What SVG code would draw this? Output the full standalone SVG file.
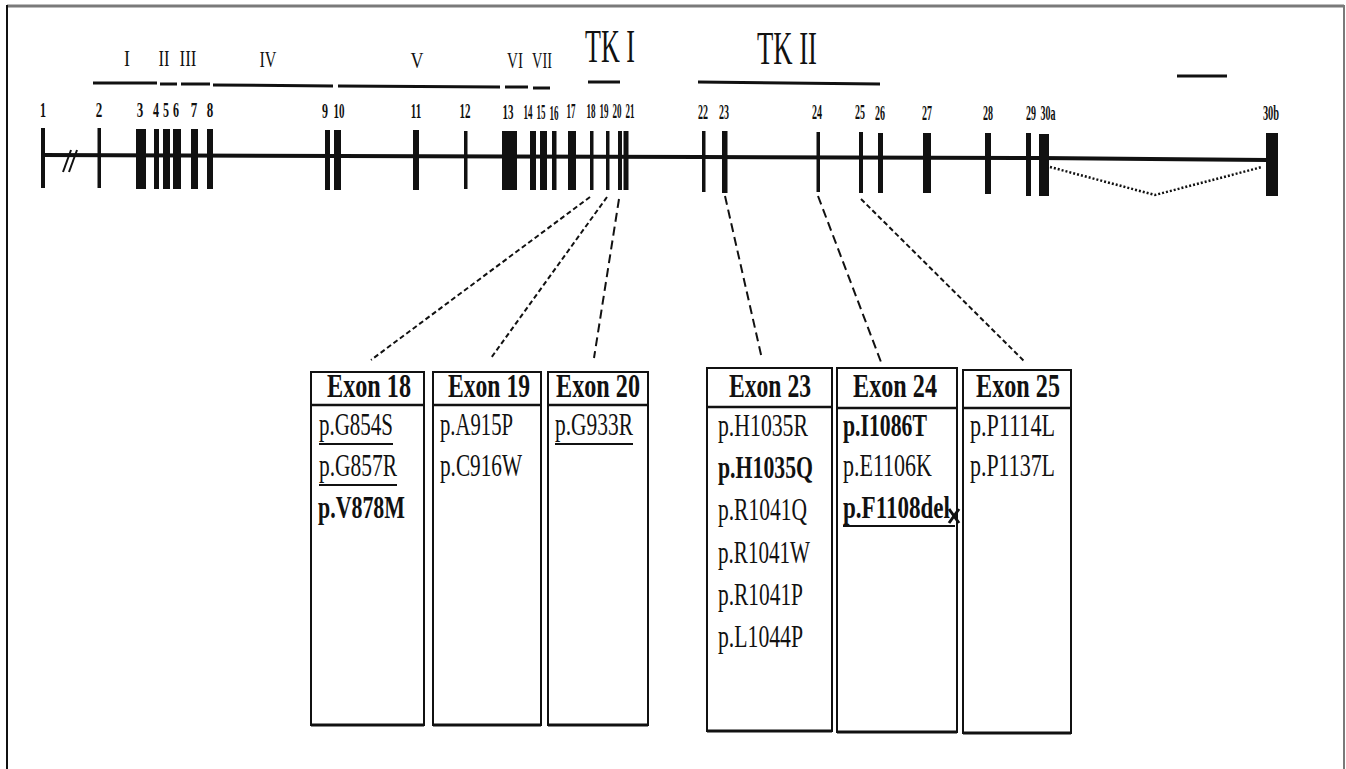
<svg xmlns="http://www.w3.org/2000/svg" width="1346" height="769" viewBox="0 0 1346 769">
<style>
.ser{font-family:"Liberation Serif","Times New Roman",serif;fill:#111}
.num{font-size:20px;font-weight:bold;text-anchor:middle}
.rom{font-size:23px;text-anchor:middle}
.tk{font-size:46px;text-anchor:middle}
.hdr{font-size:34px;font-weight:bold;text-anchor:middle}
.mut{font-size:31px}
.b{font-weight:bold}
.bar{stroke:#111;stroke-width:3;fill:none}
.ex{fill:#111}
.box{fill:none;stroke:#111;stroke-width:2}
.boxb{stroke:#111;stroke-width:3}
.div{stroke:#111;stroke-width:2.5}
.ul{stroke:#111;stroke-width:2}
.dsh{fill:none;stroke:#111;stroke-width:2;stroke-dasharray:5 3}
.dshl{fill:none;stroke:#111;stroke-width:2;stroke-dasharray:9 5}
</style>
<rect x="0" y="0" width="1346" height="769" fill="#ffffff"/>
<g id="frame">
<line x1="7" y1="6" x2="1344" y2="6" stroke="#7a7a7a" stroke-width="3"/>
<line x1="7" y1="5" x2="7" y2="769" stroke="#111" stroke-width="2"/>
<line x1="1344" y1="5" x2="1344" y2="769" stroke="#7a7a7a" stroke-width="2"/>
</g>
<g id="domains">
<text class="ser rom" x="127" y="66" textLength="6" lengthAdjust="spacingAndGlyphs">I</text>
<text class="ser rom" x="164" y="66" textLength="11" lengthAdjust="spacingAndGlyphs">II</text>
<text class="ser rom" x="188" y="66" textLength="17" lengthAdjust="spacingAndGlyphs">III</text>
<text class="ser rom" x="268" y="67" textLength="17" lengthAdjust="spacingAndGlyphs">IV</text>
<text class="ser rom" x="417" y="68" textLength="13" lengthAdjust="spacingAndGlyphs">V</text>
<text class="ser rom" x="515" y="68" textLength="16" lengthAdjust="spacingAndGlyphs">VI</text>
<text class="ser rom" x="542" y="68" textLength="20" lengthAdjust="spacingAndGlyphs">VII</text>
<text class="ser tk" x="610" y="62" textLength="50" lengthAdjust="spacingAndGlyphs">TK I</text>
<text class="ser tk" x="787" y="64" textLength="60" lengthAdjust="spacingAndGlyphs">TK II</text>
<line class="bar" x1="93" y1="83" x2="157" y2="83"/>
<line class="bar" x1="160" y1="84" x2="177" y2="84"/>
<line class="bar" x1="181" y1="84" x2="210" y2="84"/>
<line class="bar" x1="213" y1="85" x2="333" y2="86"/>
<line class="bar" x1="338" y1="86" x2="500" y2="87"/>
<line class="bar" x1="505" y1="87" x2="528" y2="87"/>
<line class="bar" x1="533" y1="88" x2="550" y2="88"/>
<line class="bar" x1="588" y1="82" x2="620" y2="82"/>
<line class="bar" x1="698" y1="82" x2="880" y2="84"/>
<line class="bar" x1="1177" y1="76" x2="1227" y2="76" stroke-width="2.5"/>
</g>
<g id="gene">
<polyline points="42,155 700,157 1040,158 1150,159 1268,160" fill="none" stroke="#111" stroke-width="4"/>
<line x1="63" y1="172" x2="71" y2="150" stroke="#111" stroke-width="2"/>
<line x1="69" y1="172" x2="77" y2="150" stroke="#111" stroke-width="2"/>
<rect class="ex" x="41" y="128" width="4" height="60"/>
<rect class="ex" x="97.5" y="128" width="3.5" height="60"/>
<rect class="ex" x="136" y="129" width="10" height="60"/>
<rect class="ex" x="154" y="129" width="5" height="60"/>
<rect class="ex" x="163" y="129" width="7" height="60"/>
<rect class="ex" x="173" y="129" width="8" height="60"/>
<rect class="ex" x="191" y="129" width="7" height="60"/>
<rect class="ex" x="207" y="129" width="6" height="60"/>
<rect class="ex" x="325" y="130" width="5" height="60"/>
<rect class="ex" x="334" y="130" width="7" height="60"/>
<rect class="ex" x="413" y="130" width="6" height="60"/>
<rect class="ex" x="464" y="131" width="3.5" height="58"/>
<rect class="ex" x="502" y="131" width="15" height="59"/>
<rect class="ex" x="530" y="131" width="6" height="59"/>
<rect class="ex" x="540" y="131" width="7" height="59"/>
<rect class="ex" x="552" y="131" width="4.5" height="59"/>
<rect class="ex" x="568" y="131" width="8" height="59"/>
<rect class="ex" x="590" y="131" width="3.5" height="59"/>
<rect class="ex" x="606" y="131" width="3.5" height="59"/>
<rect class="ex" x="618" y="131" width="4" height="59"/>
<rect class="ex" x="623.5" y="131" width="5" height="59"/>
<rect class="ex" x="702" y="131" width="3.5" height="61"/>
<rect class="ex" x="722" y="131" width="5.5" height="62"/>
<rect class="ex" x="816.5" y="132" width="3.5" height="60"/>
<rect class="ex" x="859" y="132" width="4" height="61"/>
<rect class="ex" x="878" y="133" width="5" height="60"/>
<rect class="ex" x="923" y="133" width="8" height="60"/>
<rect class="ex" x="985" y="133" width="6" height="61"/>
<rect class="ex" x="1026" y="133" width="5" height="63"/>
<rect class="ex" x="1039" y="134" width="10" height="62"/>
<rect class="ex" x="1266" y="133" width="12" height="63"/>
<polyline points="1050,167 1155,195 1262,167" fill="none" stroke="#111" stroke-width="2.5" stroke-dasharray="2 2"/>
<text class="ser num" transform="translate(43 117) scale(0.6 1)">1</text>
<text class="ser num" transform="translate(99 117) scale(0.65 1)">2</text>
<text class="ser num" transform="translate(140 117) scale(0.65 1)">3</text>
<text class="ser num" transform="translate(156 117) scale(0.6 1)">4</text>
<text class="ser num" transform="translate(166 117) scale(0.6 1)">5</text>
<text class="ser num" transform="translate(176 117) scale(0.6 1)">6</text>
<text class="ser num" transform="translate(194 117) scale(0.65 1)">7</text>
<text class="ser num" transform="translate(210 117) scale(0.65 1)">8</text>
<text class="ser num" transform="translate(325 118) scale(0.6 1)">9</text>
<text class="ser num" transform="translate(339 118) scale(0.55 1)">10</text>
<text class="ser num" transform="translate(416 118) scale(0.55 1)">11</text>
<text class="ser num" transform="translate(465 118) scale(0.55 1)">12</text>
<text class="ser num" transform="translate(508 119) scale(0.55 1)">13</text>
<text class="ser num" transform="translate(528 119) scale(0.45 1)">14</text>
<text class="ser num" transform="translate(541 119) scale(0.45 1)">15</text>
<text class="ser num" transform="translate(554 120) scale(0.45 1)">16</text>
<text class="ser num" transform="translate(571 118) scale(0.45 1)">17</text>
<text class="ser num" transform="translate(591 118) scale(0.45 1)">18</text>
<text class="ser num" transform="translate(604 118) scale(0.45 1)">19</text>
<text class="ser num" transform="translate(617 118) scale(0.45 1)">20</text>
<text class="ser num" transform="translate(630 118) scale(0.45 1)">21</text>
<text class="ser num" transform="translate(703 119) scale(0.5 1)">22</text>
<text class="ser num" transform="translate(724 119) scale(0.5 1)">23</text>
<text class="ser num" transform="translate(817 119) scale(0.5 1)">24</text>
<text class="ser num" transform="translate(860 119) scale(0.5 1)">25</text>
<text class="ser num" transform="translate(880 120) scale(0.5 1)">26</text>
<text class="ser num" transform="translate(927 120) scale(0.5 1)">27</text>
<text class="ser num" transform="translate(988 120) scale(0.5 1)">28</text>
<text class="ser num" transform="translate(1031 120) scale(0.5 1)">29</text>
<text class="ser num" transform="translate(1048 120) scale(0.5 1)">30a</text>
<text class="ser num" transform="translate(1271 120) scale(0.52 1)">30b</text>
</g>
<g id="connectors">
<line class="dsh" x1="590" y1="197" x2="371" y2="360"/>
<line class="dsh" x1="607" y1="197" x2="491" y2="358"/>
<line class="dshl" x1="619" y1="199" x2="594" y2="358"/>
<line class="dshl" x1="725" y1="196" x2="762" y2="359"/>
<line class="dshl" x1="818" y1="196" x2="881" y2="362"/>
<line class="dsh" x1="861" y1="199" x2="1025" y2="362"/>
</g>
<g id="exon18">
<rect class="box" x="311" y="372" width="113" height="353"/>
<line class="boxb" x1="311" y1="725" x2="424" y2="725"/>
<line class="div" x1="311" y1="405" x2="424" y2="405"/>
<text class="ser hdr" x="369" y="397" textLength="84" lengthAdjust="spacingAndGlyphs">Exon 18</text>
<text class="ser mut" x="319" y="435" textLength="74" lengthAdjust="spacingAndGlyphs">p.G854S</text>
<line class="ul" x1="319" y1="444" x2="393" y2="444"/>
<text class="ser mut" x="319" y="476" textLength="78" lengthAdjust="spacingAndGlyphs">p.G857R</text>
<line class="ul" x1="319" y1="485" x2="397" y2="485"/>
<text class="ser mut b" x="318" y="518" textLength="87" lengthAdjust="spacingAndGlyphs">p.V878M</text>
</g>
<g id="exon19">
<rect class="box" x="433" y="372" width="108" height="353"/>
<line class="boxb" x1="433" y1="725" x2="541" y2="725"/>
<line class="div" x1="433" y1="405" x2="541" y2="405"/>
<text class="ser hdr" x="489" y="397" textLength="82" lengthAdjust="spacingAndGlyphs">Exon 19</text>
<text class="ser mut" x="440" y="435" textLength="73" lengthAdjust="spacingAndGlyphs">p.A915P</text>
<text class="ser mut" x="440" y="476" textLength="82" lengthAdjust="spacingAndGlyphs">p.C916W</text>
</g>
<g id="exon20">
<rect class="box" x="548" y="372" width="100" height="353"/>
<line class="boxb" x1="548" y1="725" x2="648" y2="725"/>
<line class="div" x1="548" y1="405" x2="648" y2="405"/>
<text class="ser hdr" x="598" y="397" textLength="84" lengthAdjust="spacingAndGlyphs">Exon 20</text>
<text class="ser mut" x="555" y="435" textLength="78" lengthAdjust="spacingAndGlyphs">p.G933R</text>
<line class="ul" x1="555" y1="444" x2="633" y2="444"/>
</g>
<g id="exon23">
<rect class="box" x="707" y="368" width="125" height="363"/>
<line class="boxb" x1="707" y1="731" x2="832" y2="731"/>
<line class="div" x1="707" y1="407" x2="832" y2="407"/>
<text class="ser hdr" x="770" y="397" textLength="82" lengthAdjust="spacingAndGlyphs">Exon 23</text>
<text class="ser mut" x="718" y="436" textLength="90" lengthAdjust="spacingAndGlyphs">p.H1035R</text>
<text class="ser mut b" x="718" y="478" textLength="95" lengthAdjust="spacingAndGlyphs">p.H1035Q</text>
<text class="ser mut" x="718" y="520" textLength="89" lengthAdjust="spacingAndGlyphs">p.R1041Q</text>
<text class="ser mut" x="718" y="563" textLength="92" lengthAdjust="spacingAndGlyphs">p.R1041W</text>
<text class="ser mut" x="718" y="605" textLength="85" lengthAdjust="spacingAndGlyphs">p.R1041P</text>
<text class="ser mut" x="718" y="647" textLength="85" lengthAdjust="spacingAndGlyphs">p.L1044P</text>
</g>
<g id="exon24">
<rect class="box" x="837" y="368" width="120" height="364"/>
<line class="boxb" x1="837" y1="732" x2="957" y2="732"/>
<line class="div" x1="837" y1="408" x2="957" y2="408"/>
<text class="ser hdr" x="895" y="397" textLength="84" lengthAdjust="spacingAndGlyphs">Exon 24</text>
<text class="ser mut b" x="843" y="436" textLength="84" lengthAdjust="spacingAndGlyphs">p.I1086T</text>
<text class="ser mut" x="843" y="476" textLength="89" lengthAdjust="spacingAndGlyphs">p.E1106K</text>
<text class="ser mut b" x="843" y="518" textLength="107" lengthAdjust="spacingAndGlyphs">p.F1108del</text>
<line class="ul" x1="843" y1="526" x2="955" y2="526"/>
<line x1="949" y1="509" x2="959" y2="523" stroke="#111" stroke-width="3"/>
<line x1="959" y1="509" x2="949" y2="523" stroke="#111" stroke-width="3"/>
</g>
<g id="exon25">
<rect class="box" x="963" y="370" width="108" height="363"/>
<line class="boxb" x1="963" y1="733" x2="1071" y2="733"/>
<line class="div" x1="963" y1="408" x2="1071" y2="408"/>
<text class="ser hdr" x="1018" y="397" textLength="84" lengthAdjust="spacingAndGlyphs">Exon 25</text>
<text class="ser mut" x="970" y="436" textLength="85" lengthAdjust="spacingAndGlyphs">p.P1114L</text>
<text class="ser mut" x="970" y="476" textLength="85" lengthAdjust="spacingAndGlyphs">p.P1137L</text>
</g>
</svg>
